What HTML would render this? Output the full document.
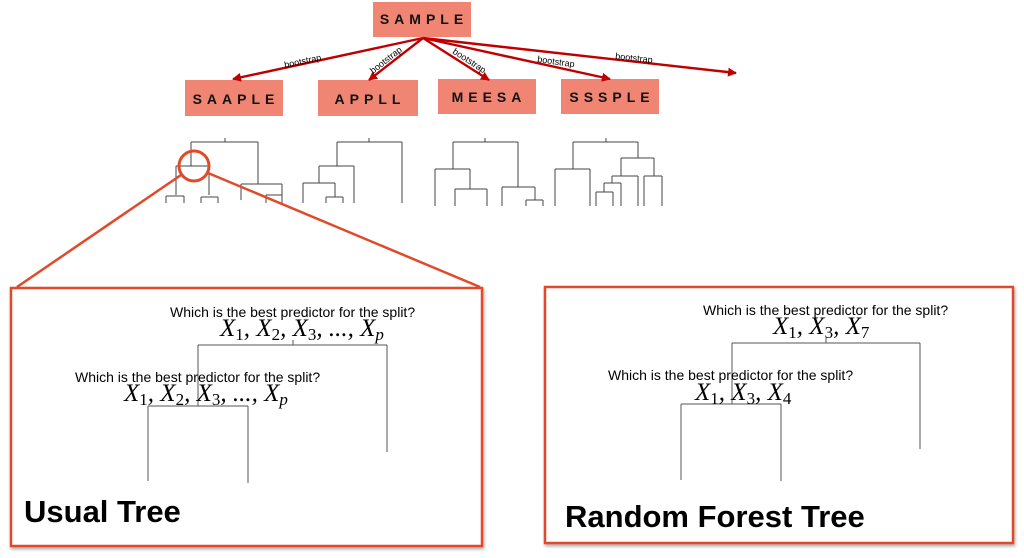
<!DOCTYPE html>
<html><head><meta charset="utf-8"><style>
html,body{margin:0;padding:0;background:#fff;width:1024px;height:558px;overflow:hidden}
svg{display:block}
.q{font-family:"Liberation Sans",sans-serif;font-size:14px;fill:#000}
.m{font-family:"Liberation Serif",serif;font-style:italic;font-size:25px;fill:#000}
.s{font-size:17px;font-style:normal}
.b{font-family:"Liberation Sans",sans-serif;font-size:14px;font-weight:bold;letter-spacing:5px;fill:#111}
.bs{font-family:"Liberation Sans",sans-serif;font-size:9px;fill:#000}
.t{font-family:"Liberation Sans",sans-serif;font-weight:bold;font-size:31px;fill:#000}
</style></head><body>
<svg width="1024" height="558" viewBox="0 0 1024 558" xmlns="http://www.w3.org/2000/svg">
<defs><marker id="ah" markerWidth="9" markerHeight="9" refX="8" refY="4.5" orient="auto" markerUnits="userSpaceOnUse"><path d="M0,0 L9,4.5 L0,9 z" fill="#c00000"/></marker>
<filter id="sh" x="-5%" y="-5%" width="110%" height="110%"><feDropShadow dx="1" dy="2" stdDeviation="1.5" flood-opacity="0.35"/></filter></defs>
<g fill="#f08573">
<rect x="373" y="2" width="98" height="35"/>
<rect x="185" y="80" width="98" height="36"/>
<rect x="318" y="80" width="100" height="36"/>
<rect x="438" y="79" width="98" height="35"/>
<rect x="561" y="79" width="98" height="35"/>
</g>
<text class="b" x="424" y="24" text-anchor="middle">SAMPLE</text>
<text class="b" x="236" y="104" text-anchor="middle">SAAPLE</text>
<text class="b" x="370" y="104" text-anchor="middle">APPLL</text>
<text class="b" x="489" y="102" text-anchor="middle">MEESA</text>
<text class="b" x="612" y="102" text-anchor="middle">SSSPLE</text>
<g stroke="#c00000" stroke-width="2.4" fill="none" marker-end="url(#ah)">
<line x1="423" y1="38" x2="233" y2="79"/>
<line x1="423" y1="38" x2="369" y2="80"/>
<line x1="423" y1="38" x2="489" y2="80"/>
<line x1="423" y1="38" x2="610" y2="79"/>
<line x1="423" y1="38" x2="736" y2="73"/>
</g>
<text class="bs" transform="translate(285,68) rotate(-12)">bootstrap</text>
<text class="bs" transform="translate(373,74) rotate(-38)">bootstrap</text>
<text class="bs" transform="translate(452,53) rotate(33)">bootstrap</text>
<text class="bs" transform="translate(537,62) rotate(8)">bootstrap</text>
<text class="bs" transform="translate(615,59) rotate(6)">bootstrap</text>
<g stroke="#444" stroke-width="1" fill="none">
<path d="M225,138V142M191,142H258M191,142V166M176,166H209M176,166V195M209,166V195M166,196H184M166,196V203M184,196V203M201,197H218M201,197V203M218,197V203M258,142V184M241,184H282M241,184V200M266,195H282M266,195V203M282,184V203"/>
<path d="M369,138V142M337,142H402M402,142V203M337,142V166M319,166H354M354,166V203M319,166V183M303,183H335M303,183V203M335,183V197M326,197H343M326,197V203M343,197V203"/>
<path d="M485,138V142M453,142H518M453,142V169M435,169H470M435,169V206M470,169V189M455,189H487M455,189V206M487,189V206M518,142V187M502,187H535M502,187V206M535,187V200M526,200H543M526,200V206M543,200V206"/>
<path d="M606,138V142M573,142H638M573,142V169M555,169H590M555,169V206M590,169V206M638,142V158M621,158H654M654,158V176M644,176H662M644,176V206M662,176V206M621,158V176M612,176H638M638,176V206M612,176V183M604,183H621M621,183V206M604,183V192M596,192H613M596,192V206M613,192V206"/>
</g>
<circle cx="194" cy="166" r="15" fill="none" stroke="#e04a2a" stroke-width="3"/>
<line x1="181" y1="175" x2="17" y2="287" stroke="#e04a2a" stroke-width="2.5"/>
<line x1="208" y1="173" x2="480" y2="287" stroke="#e04a2a" stroke-width="2.5"/>
<rect x="11" y="288" width="471" height="258" fill="#fff" stroke="#e04a2a" stroke-width="2.5" filter="url(#sh)"/>
<rect x="545" y="287" width="468" height="256" fill="#fff" stroke="#e04a2a" stroke-width="2.5" filter="url(#sh)"/>
<g stroke="#555" stroke-width="1" fill="none">
<path d="M293,340V345M198,345H387M387,345V452M198,345V406M148,406H248M148,406V481M248,406V483"/>
<path d="M826,338V343M732,343H920M920,343V449M732,343V404M681,404H781M681,404V480M781,404V481"/>
</g>
<text class="q" x="170" y="317">Which is the best predictor for the split?</text>
<text class="m" x="220" y="336">X<tspan class="s" dy="4">1</tspan><tspan dy="-4">, X</tspan><tspan class="s" dy="4">2</tspan><tspan dy="-4">, X</tspan><tspan class="s" dy="4">3</tspan><tspan dy="-4">, ..., X</tspan><tspan class="s" dy="4" style="font-style:italic">p</tspan></text>
<text class="q" x="75" y="382">Which is the best predictor for the split?</text>
<text class="m" x="124" y="401">X<tspan class="s" dy="4">1</tspan><tspan dy="-4">, X</tspan><tspan class="s" dy="4">2</tspan><tspan dy="-4">, X</tspan><tspan class="s" dy="4">3</tspan><tspan dy="-4">, ..., X</tspan><tspan class="s" dy="4" style="font-style:italic">p</tspan></text>
<text class="t" x="24" y="522">Usual Tree</text>
<text class="q" x="703" y="315">Which is the best predictor for the split?</text>
<text class="m" x="773" y="334">X<tspan class="s" dy="4">1</tspan><tspan dy="-4">, X</tspan><tspan class="s" dy="4">3</tspan><tspan dy="-4">, X</tspan><tspan class="s" dy="4">7</tspan></text>
<text class="q" x="608" y="380">Which is the best predictor for the split?</text>
<text class="m" x="695" y="400">X<tspan class="s" dy="4">1</tspan><tspan dy="-4">, X</tspan><tspan class="s" dy="4">3</tspan><tspan dy="-4">, X</tspan><tspan class="s" dy="4">4</tspan></text>
<text class="t" x="565" y="527">Random Forest Tree</text>
</svg>
</body></html>
